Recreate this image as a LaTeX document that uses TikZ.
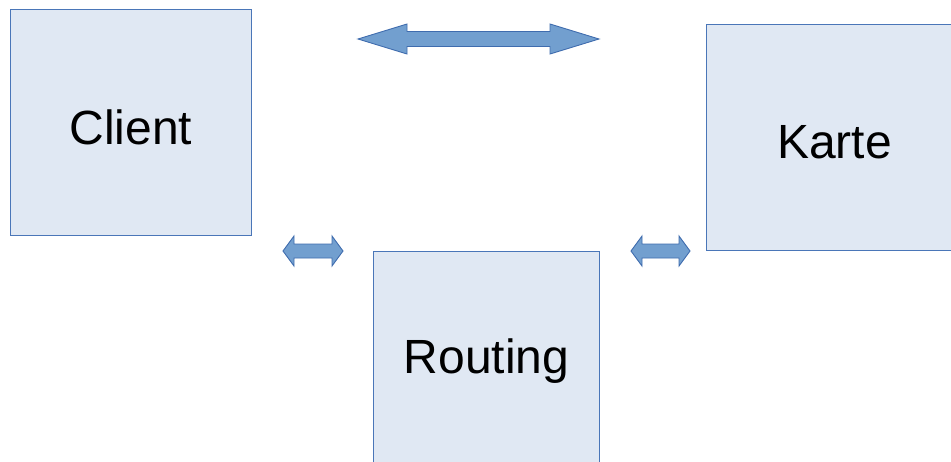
\documentclass[tikz,border=0pt]{standalone}
\usepackage{fontspec}
\setmainfont{Liberation Sans}
\definecolor{boxfill}{HTML}{E0E8F3}
\definecolor{boxline}{HTML}{4A76B8}
\definecolor{arrfill}{HTML}{729FCF}
\definecolor{arrline}{HTML}{3F6CAE}
\newcommand\dblockarrow[6]{% x1 x2 y headlen headhalf shafthalf
  \draw[arrowshape] (#1,#3) -- (#1+#4,#3-#5) -- (#1+#4,#3-#6) -- (#2-#4,#3-#6) -- (#2-#4,#3-#5)
    -- (#2,#3) -- (#2-#4,#3+#5) -- (#2-#4,#3+#6) -- (#1+#4,#3+#6) -- (#1+#4,#3+#5) -- cycle;}
\begin{document}
\begin{tikzpicture}[x=1pt,y=-1pt,
  boxshape/.style={fill=boxfill,draw=boxline,line width=1pt},
  arrowshape/.style={fill=arrfill,draw=arrline,line width=0.9pt,line join=miter},
  lbl/.style={font=\fontsize{48}{56}\selectfont,text=black,inner sep=0pt}]
\useasboundingbox (0,0) rectangle (951,461);
\begin{scope}
\clip (0,0) rectangle (951,461);
\draw[boxshape] (10.5,9.5) rectangle (251.5,235.5);
\draw[boxshape] (706.5,24.5) rectangle (963,250.5);
\draw[boxshape] (373.5,251.5) rectangle (599.5,477);
\end{scope}
\node[lbl] (client) at (131,127) {Client};
\node[lbl] (karte) at (834.5,142) {Karte};
\node[lbl] (routing) at (486.5,361) {Routing};
\dblockarrow{358}{599}{39}{49}{15}{7.5}
\dblockarrow{283}{343}{251}{11}{15}{7}
\dblockarrow{631}{690}{251}{11}{15}{7}
\end{tikzpicture}
\end{document}
